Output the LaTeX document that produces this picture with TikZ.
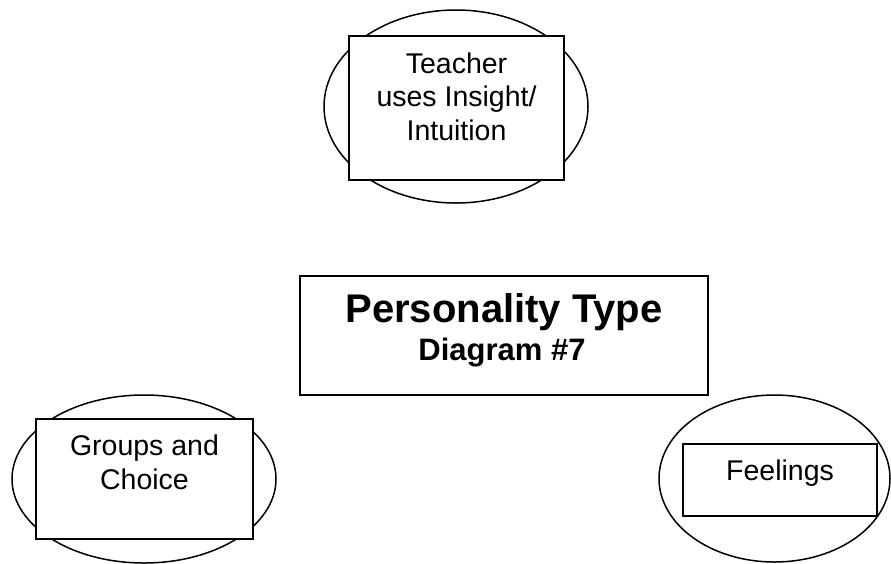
\documentclass[tikz,border=0pt]{standalone}
\usepackage{fontspec}
\setmainfont{Liberation Sans}
\usetikzlibrary{shapes.geometric}
\tikzset{
  oval/.style={draw=black, ellipse, line width=1.5pt, inner sep=0pt},
  box/.style={draw=black, rectangle, fill=white, line width=1.8pt, inner sep=0pt},
  txt/.style={inner sep=0pt, align=center, anchor=base, font=\fontsize{28.5}{33.3}\selectfont},
}
\begin{document}
\begin{tikzpicture}[x=1pt,y=-1pt]
\useasboundingbox (0,0) rectangle (891,563);
% top
\node[oval, minimum width=264pt, minimum height=193pt] (e1) at (456,106.5) {};
\node[box, minimum width=215pt, minimum height=144pt] (r1) at (456.5,108) {};
\node[txt] (t1) at (456.5,140) {Teacher\\uses Insight/\\Intuition};
% center
\node[box, minimum width=408pt, minimum height=119pt] (r2) at (504,335.5) {};
\node[txt, font=\fontsize{40}{40}\selectfont\bfseries] (t2) at (504,322.7) {Personality Type};
\node[txt, font=\fontsize{31}{31}\selectfont\bfseries] (t3) at (502,360.7) {Diagram \#7};
% left
\node[oval, minimum width=264pt, minimum height=168pt] (e3) at (144,479) {};
\node[box, minimum width=217pt, minimum height=120pt] (r3) at (144.5,479) {};
\node[txt] (t4) at (144.5,489) {Groups and\\Choice};
% right
\node[oval, minimum width=231pt, minimum height=167pt] (e4) at (774.5,478.5) {};
\node[box, minimum width=194pt, minimum height=72pt] (r4) at (780,480) {};
\node[txt] (t5) at (780,480) {Feelings};
\end{tikzpicture}
\end{document}
